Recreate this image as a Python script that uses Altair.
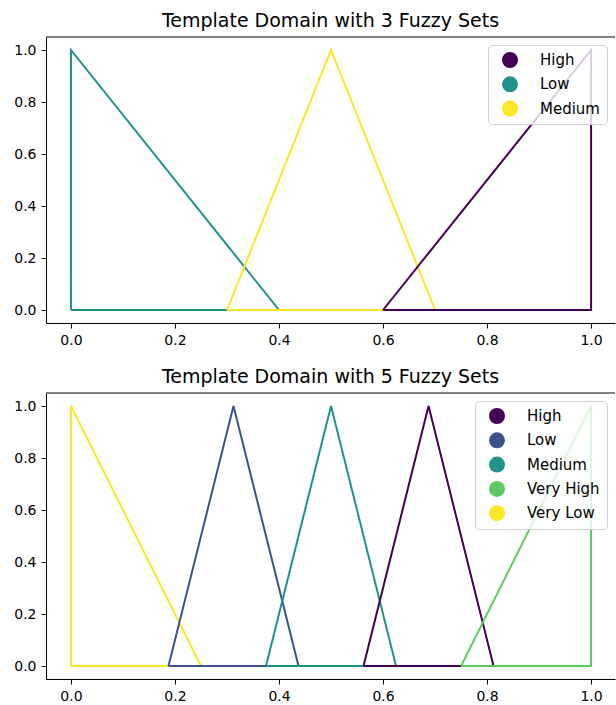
import altair as alt
import pandas as pd

# ---- data ----
top_sets = ["Low", "Medium", "High"]
top_x = [[0.0, 0.0, 0.4, 0.0], [0.3, 0.5, 0.7, 0.3], [0.6, 1.0, 1.0, 0.6]]
top_y = [[0, 1, 0, 0], [0, 1, 0, 0], [0, 1, 0, 0]]
top_legend = ["High", "Low", "Medium"]
top_colors = ["#440154", "#21918c", "#fde725"]

bot_sets = ["Very Low", "Low", "Medium", "High", "Very High"]
bot_x = [
    [0.0, 0.0, 0.25, 0.0],
    [0.1875, 0.3125, 0.4375, 0.1875],
    [0.375, 0.5, 0.625, 0.375],
    [0.5625, 0.6875, 0.8125, 0.5625],
    [0.75, 1.0, 1.0, 0.75],
]
bot_y = [[0, 1, 0, 0], [0, 1, 0, 0], [0, 1, 0, 0], [0, 1, 0, 0], [0, 1, 0, 0]]
bot_legend = ["High", "Low", "Medium", "Very High", "Very Low"]
bot_colors = ["#440154", "#3b528b", "#21918c", "#5ec962", "#fde725"]

tick_values = [0.0, 0.2, 0.4, 0.6, 0.8, 1.0]

W, H = 569, 286
FONT = "DejaVu Sans"


def panel(title, sets, xs, ys, legend_domain, colors):
    rows = []
    for s, xv, yv in zip(sets, xs, ys):
        for i, (a, b) in enumerate(zip(xv, yv)):
            rows.append({"set": s, "x": a, "y": b, "i": i})
    df = pd.DataFrame(rows)
    xsc = alt.Scale(domain=[-0.048, 1.046], nice=False, zero=False)
    ysc = alt.Scale(domain=[-0.05, 1.05], nice=False, zero=False)
    xax = alt.Axis(values=tick_values, format=".1f", title=None, labelFlush=False)
    yax = alt.Axis(values=tick_values, format=".1f", title=None, labelFlush=False)
    # stroke scale: data-derived (sorted) domain, same order as legend_domain
    stroke_sc = alt.Scale(range=colors)
    fill_sc = alt.Scale(domain=legend_domain, range=colors)
    leg = alt.Legend(
        title=None,
        orient="top-right",
        offset=8,
        symbolType="circle",
        symbolSize=256,
        symbolStrokeWidth=0,
        symbolOpacity=1,
        padding=7,
        symbolOffset=7,
        labelOffset=22,
        rowPadding=8.3,
        strokeColor="#d0d0d0",
        cornerRadius=4,
        fillColor="rgba(255,255,255,0.8)",
        labelFontSize=15,
        labelFont=FONT,
        labelColor="black",
    )
    base = alt.Chart(df)
    layers = []
    for s in sets:
        layers.append(
            base.transform_filter(alt.datum.set == s)
            .mark_line(strokeWidth=2)
            .encode(
                x=alt.X("x:Q", scale=xsc, axis=xax),
                y=alt.Y("y:Q", scale=ysc, axis=yax),
                stroke=alt.Stroke("set:N", scale=stroke_sc, legend=None),
                order=alt.Order("i:Q"),
            )
        )
    legend_layer = base.mark_point(filled=True, size=0, shape="circle").encode(
        x=alt.X("x:Q", scale=xsc, axis=xax),
        y=alt.Y("y:Q", scale=ysc, axis=yax),
        fill=alt.Fill("set:N", scale=fill_sc, legend=leg),
    )
    spine = (
        alt.Chart(pd.DataFrame({"a": [0]}))
        .mark_rule(color="black", strokeWidth=1)
        .encode(x=alt.value(0), x2=alt.value(W), y=alt.value(0))
    )
    return alt.layer(*layers, legend_layer, spine).properties(
        width=W,
        height=H,
        title=alt.TitleParams(
            title,
            fontSize=19,
            font=FONT,
            fontWeight="normal",
            color="black",
            anchor="middle",
            offset=6,
        ),
    )


top = panel("Template Domain with 3 Fuzzy Sets", top_sets, top_x, top_y, top_legend, top_colors)
bot = panel("Template Domain with 5 Fuzzy Sets", bot_sets, bot_x, bot_y, bot_legend, bot_colors)

chart = (
    alt.vconcat(top, bot, spacing=20)
    .resolve_scale(stroke="independent", fill="independent")
    .resolve_legend(fill="independent")
    .properties(padding={"left": 13, "top": 11, "right": 0, "bottom": 0})
    .configure_view(stroke=None)
    .configure_axis(
        grid=False,
        domainColor="black",
        domainWidth=1,
        tickColor="black",
        tickSize=5,
        labelPadding=5,
        labelColor="black",
        labelFontSize=14,
        labelFont=FONT,
    )
)

chart.save("out.html", embed_options={"renderer": "svg", "actions": False})
